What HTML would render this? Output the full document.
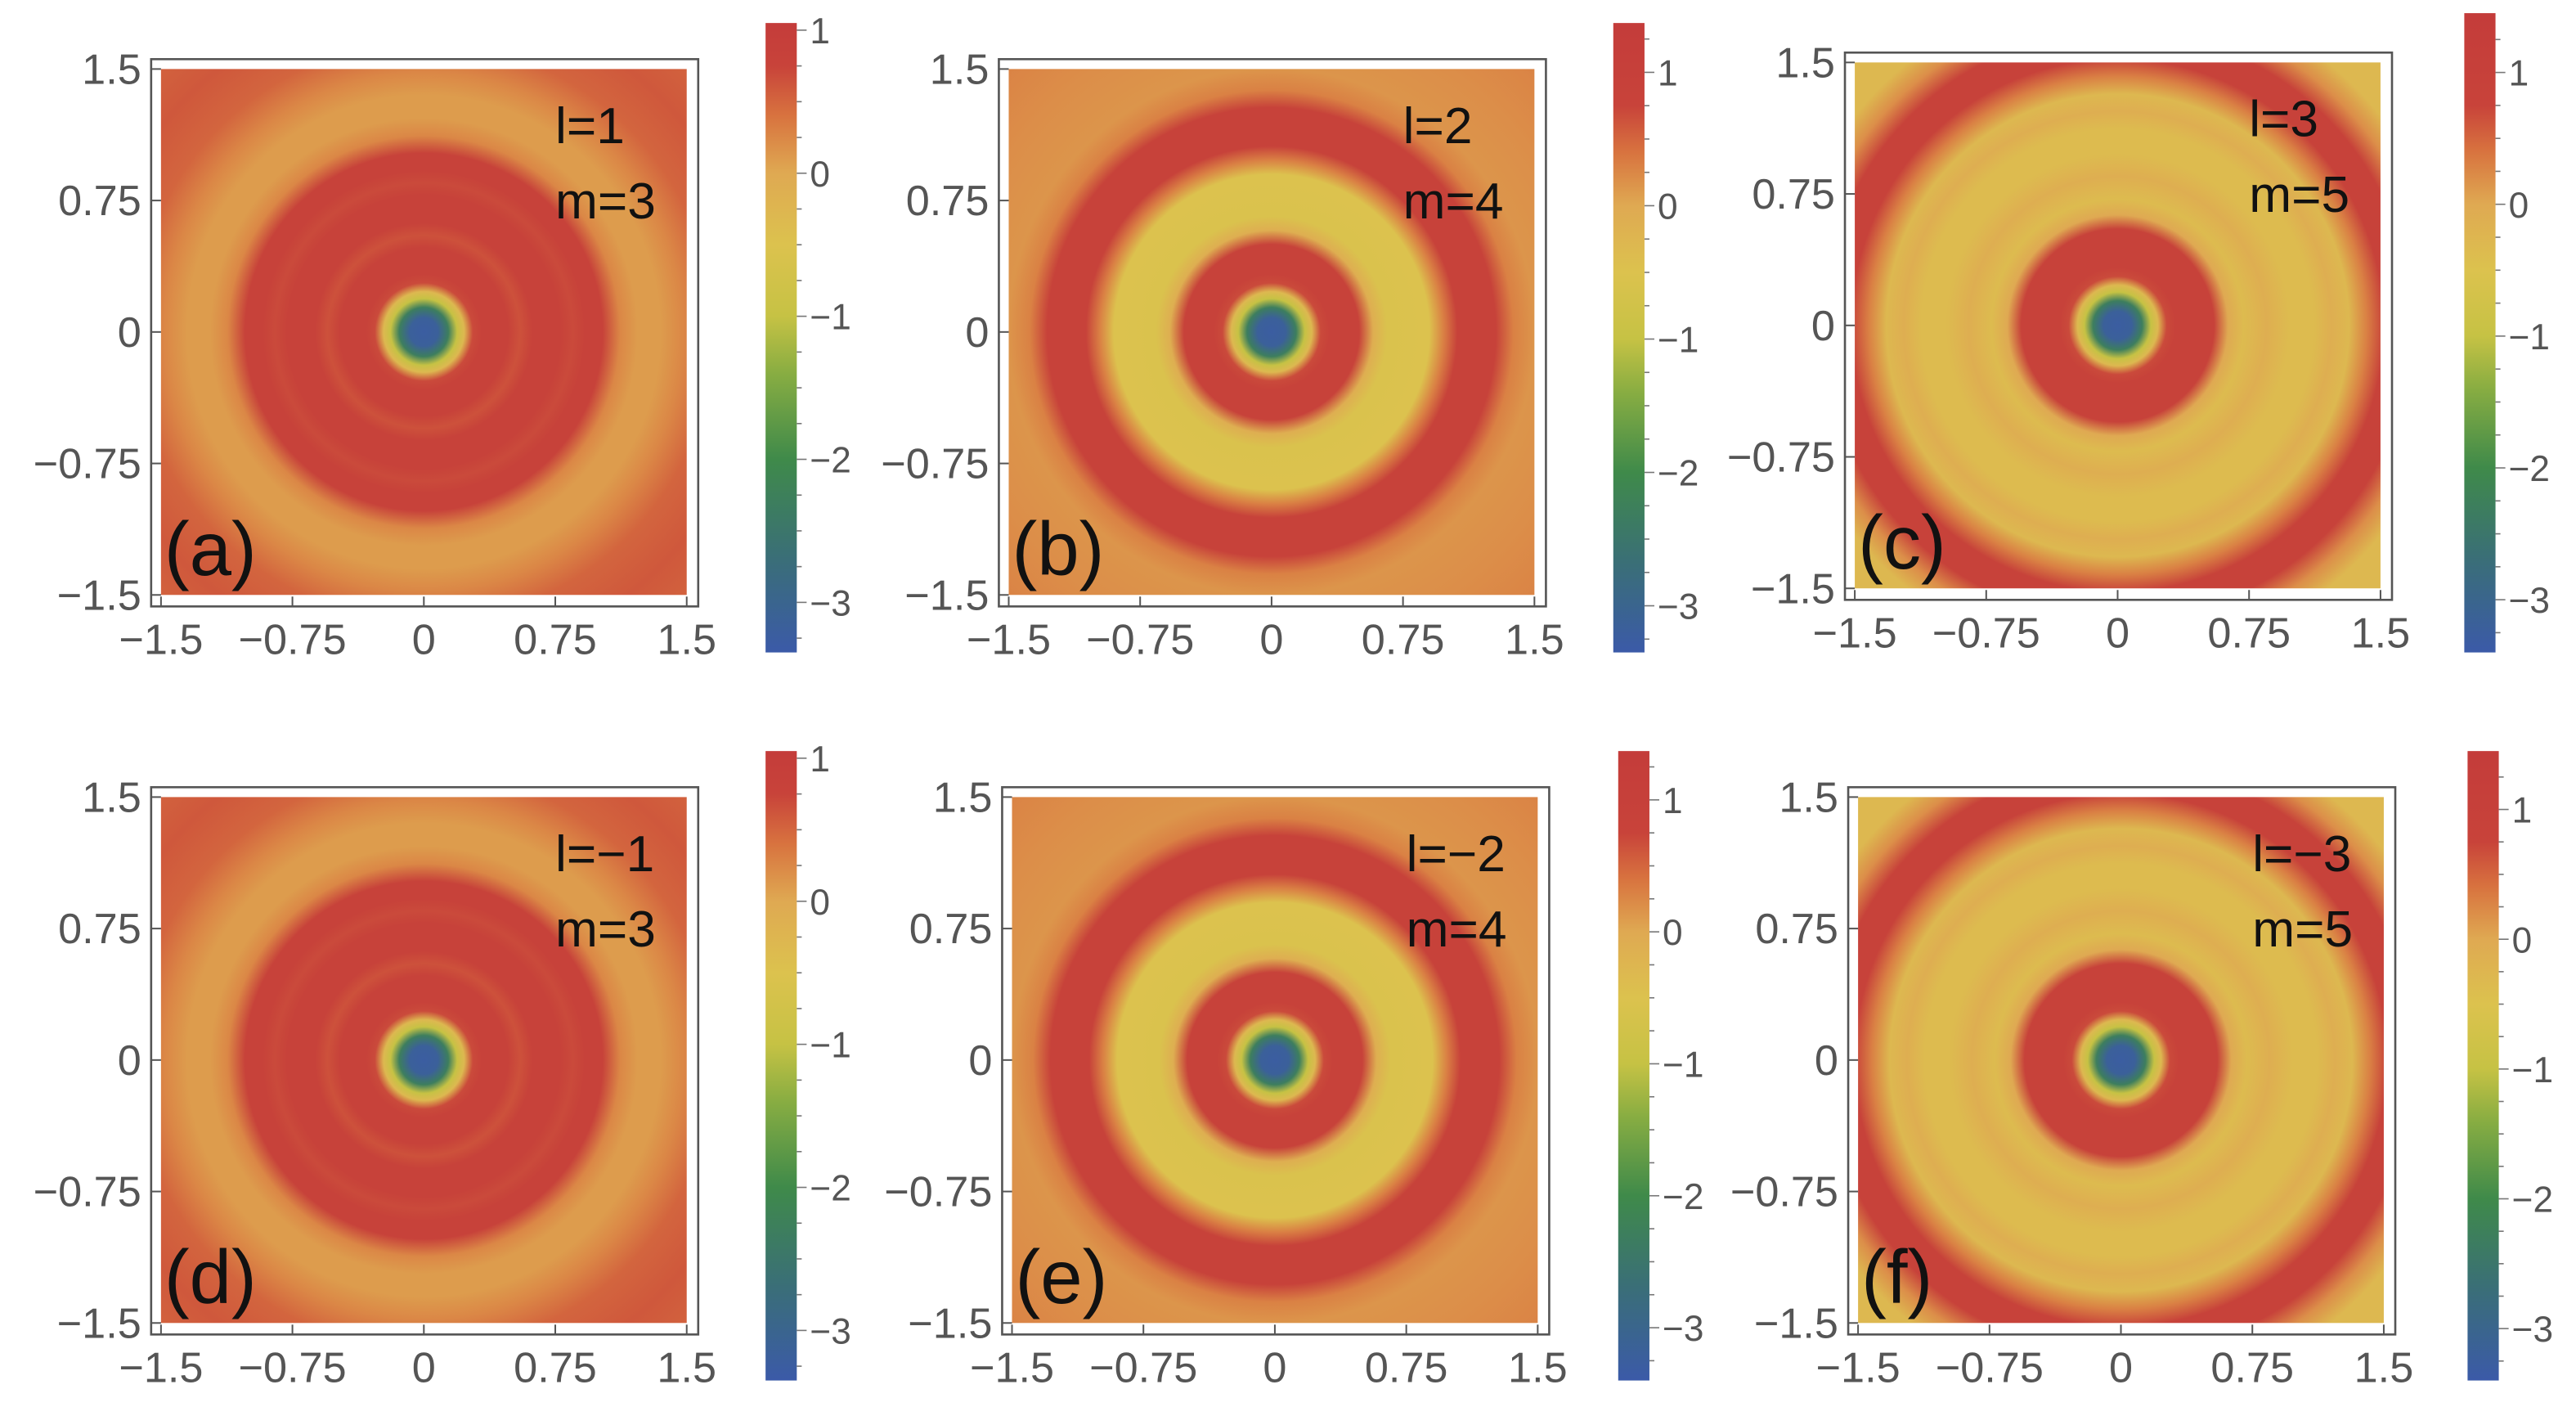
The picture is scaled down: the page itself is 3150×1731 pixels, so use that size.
<!DOCTYPE html>
<html><head><meta charset="utf-8"><style>
html,body{margin:0;padding:0;background:#fff;}
svg{display:block;}
text{font-family:"Liberation Sans",sans-serif;}
</style></head><body>
<svg id="fig" width="3150" height="1731" viewBox="0 0 1568 861.6" preserveAspectRatio="none" xmlns="http://www.w3.org/2000/svg"></svg>
<script>
// ---- data ----
const panelLetters = ["a","b","c","d","e","f"];
const lValues = ["1","2","3","\u22121","\u22122","\u22123"];
const mValues = ["3","4","5","3","4","5"];
const axisTicks = [-1.5,-0.75,0,0.75,1.5];
const axisTickLabels = ["\u22121.5","\u22120.75","0","0.75","1.5"];
const cbTicks = [1,0,-1,-2,-3];
const cbTickLabels = ["1","0","\u22121","\u22122","\u22123"];
const cbMin = [-3.35,-3.35,-3.4,-3.35,-3.4,-3.4];
const cbMax = [1.05,1.37,1.45,1.05,1.37,1.45];
// radial profiles: radius (data units) and field value
const radiiA = [0,0.08,0.14,0.19,0.23,0.28,0.33,0.48,0.55,0.62,0.78,0.85,0.92,1.02,1.12,1.22,1.35,1.48,1.65,1.9,2.2];
const valsA  = [-3.3,-3.2,-2.3,-1.0,-0.3,0.7,0.9,0.9,0.65,0.9,0.9,0.7,0.9,0.9,0.25,0.1,0.1,0.25,0.5,0.6,0.5];
const radiiB = [0,0.08,0.14,0.19,0.23,0.28,0.33,0.5,0.58,0.66,0.9,0.98,1.06,1.28,1.38,1.5,1.8,2.2];
const valsB  = [-3.3,-3.2,-2.3,-1.0,-0.3,0.7,0.9,0.9,-0.1,-0.55,-0.5,0.3,0.9,0.9,0.3,0.15,0.2,0.3];
const radiiC = [0,0.08,0.14,0.19,0.23,0.28,0.33,0.55,0.63,0.72,0.85,0.98,1.12,1.22,1.32,1.42,1.52,1.68,1.8,1.92,2.2];
const valsC  = [-3.3,-3.2,-2.3,-1.0,-0.3,0.7,0.9,0.9,0.0,-0.35,-0.1,-0.35,-0.35,-0.1,-0.3,0.3,0.9,0.9,0.2,-0.3,-0.3];
const profileR = [radiiA,radiiB,radiiC,radiiA,radiiB,radiiC];
const profileV = [valsA,valsB,valsC,valsA,valsB,valsC];

// ---- layout (not data) ----
const plots = [[98,42],[614,42],[1129,38],[98,485],[616,485],[1131,485]];
const plotSize = 320;
const cbs = [[466,14,397],[982,14,397],[1500,8,397],[466,457,840],[985,457,840],[1502,457,840]];
const cmapV = [-3.4,-2.7,-2.0,-1.4,-1.0,-0.5,0.0,0.4,0.75,1.5];
const cmapC = ["#3b5aa8","#3a6e78","#3f8a4a","#88ad42","#c6c244","#dcc24e","#dfa952","#d8733f","#c8433a","#c43c3a"];

const NS="http://www.w3.org/2000/svg";
const svg=document.getElementById('fig');
function el(t,a,p){const e=document.createElementNS(NS,t);for(const k in a)e.setAttribute(k,a[k]);(p||svg).appendChild(e);return e;}
function hex(c){return [1,3,5].map(i=>parseInt(c.substr(i,2),16));}
function cmap(v){
  if(v<=cmapV[0])return cmapC[0];
  for(let i=1;i<cmapV.length;i++){if(v<=cmapV[i]){const t=(v-cmapV[i-1])/(cmapV[i]-cmapV[i-1]);const a=hex(cmapC[i-1]),b=hex(cmapC[i]);return 'rgb('+a.map((x,j)=>Math.round(x+(b[j]-x)*t)).join(',')+')';}}
  return cmapC[cmapC.length-1];
}
const defs=el('defs',{});
for(let p=0;p<6;p++){
  const [x0,y0]=plots[p];
  const sx=v=>x0+(v+1.5)/3*plotSize, sy=v=>y0+(1.5-v)/3*plotSize;
  const g=el('g',{});
  
  
  const R=profileR[p],V=profileV[p],rMax=R[R.length-1];
  const grad=el('radialGradient',{id:'rg'+p,gradientUnits:'userSpaceOnUse',cx:sx(0),cy:sy(0),r:(sx(rMax)-sx(0))},defs);
  for(let i=0;i<R.length;i++)el('stop',{offset:R[i]/rMax,'stop-color':cmap(V[i])},grad);
  const hm=el('rect',{x:sx(-1.5),y:sy(1.5),width:plotSize,height:plotSize,fill:'url(#rg'+p+')'},g);
  
  
  const fr=el('rect',{x:x0-6,y:y0-6,width:plotSize+13,height:plotSize+13,fill:'none',stroke:'#555','stroke-width':1.3},g);
  
  
  for(let i=0;i<axisTicks.length;i++){
    const v=axisTicks[i];
    el('line',{x1:x0-6,x2:x0,y1:sy(v),y2:sy(v),stroke:'#555','stroke-width':1},g);
    el('line',{x1:sx(v),x2:sx(v),y1:y0+plotSize+7,y2:y0+plotSize+1,stroke:'#555','stroke-width':1},g);
    const yl=el('text',{x:x0-12,y:sy(v)+9,'text-anchor':'end','font-size':26,fill:'#555'},g);
    yl.textContent=axisTickLabels[i];
    
    
    const xl=el('text',{x:sx(v),y:y0+plotSize+36,'text-anchor':'middle','font-size':26,fill:'#555'},g);
    xl.textContent=axisTickLabels[i];
    
    
  }
  const lt=el('text',{x:x0+240,y:y0+45,'font-size':31,fill:'#111'},g);
  lt.textContent='l='+lValues[p];
  
  
  const mt=el('text',{x:x0+240,y:y0+91,'font-size':31,fill:'#111'},g);
  mt.textContent='m='+mValues[p];
  
  
  const pl=el('text',{x:x0+2,y:y0+308,'font-size':46,fill:'#111'},g);
  pl.textContent='('+panelLetters[p]+')';
  
  
  const [cx,ct,cbt]=cbs[p],cw=19,lo=cbMin[p],hi=cbMax[p];
  const cy=v=>cbt-(v-lo)/(hi-lo)*(cbt-ct);
  const lg=el('linearGradient',{id:'cg'+p,x1:0,y1:1,x2:0,y2:0},defs);
  for(let i=0;i<cmapV.length;i++){const o=(cmapV[i]-lo)/(hi-lo);el('stop',{offset:Math.max(0,Math.min(1,o)),'stop-color':cmapC[i]},lg);}
  const cb=el('rect',{x:cx,y:ct,width:cw,height:cbt-ct,fill:'url(#cg'+p+')'},g);
  
  
  for(let v=-3.25;v<=hi;v+=0.25){if(v<lo)continue;el('line',{x1:cx+cw,x2:cx+cw+(Math.abs(v-Math.round(v))<0.01?6:3),y1:cy(v),y2:cy(v),stroke:'#777','stroke-width':0.8},g);}
  for(let i=0;i<cbTicks.length;i++){
    const t=el('text',{x:cx+cw+8,y:cy(cbTicks[i])+8,'font-size':22,fill:'#555'},g);
    t.textContent=cbTickLabels[i];
    
    
  }
}
</script>
</body></html>
